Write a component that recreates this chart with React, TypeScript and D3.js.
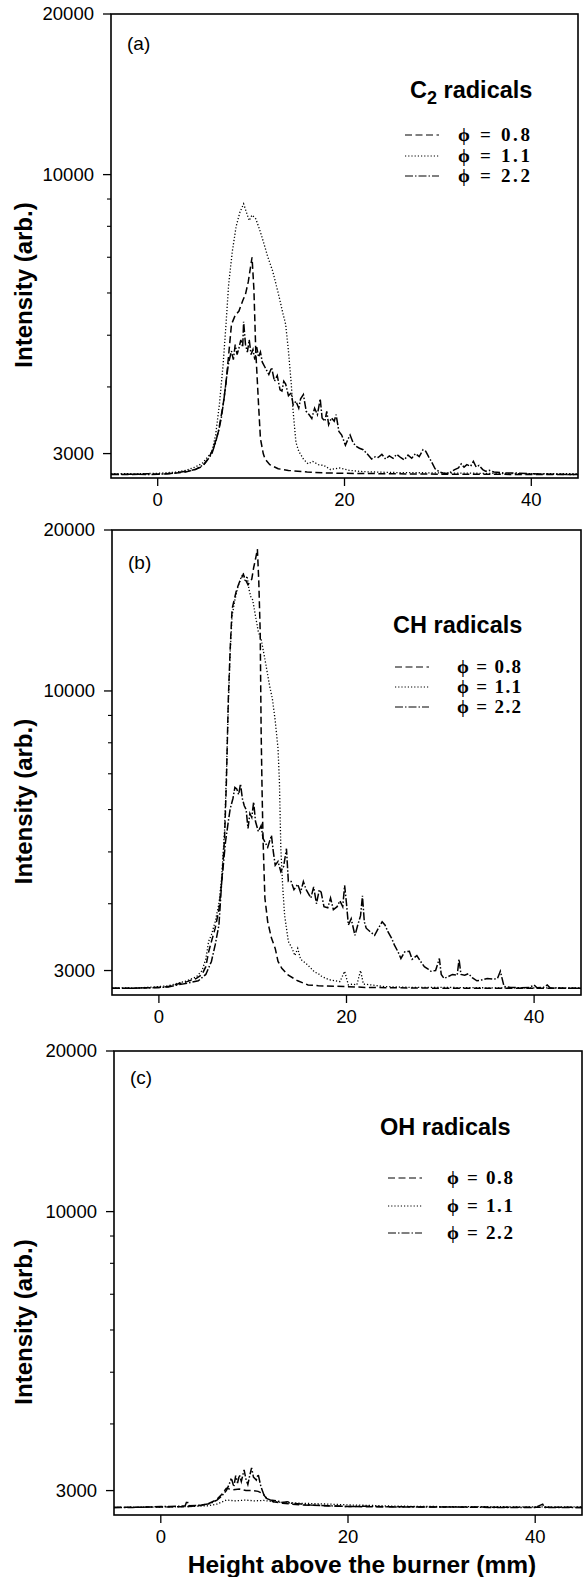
import React from "react";
import * as d3 from "d3";

// ---------- data (Height mm, Intensity arb.) ----------
const yTicksMajor = [3000, 10000, 20000];
const yTicksMinor = [4000, 5000, 6000, 7000, 8000, 9000];
const xTicks = [0, 20, 40];
const legendLabels = ["\u03d5 = 0.8", "\u03d5 = 1.1", "\u03d5 = 2.2"];
const panelLabels = ["(a)", "(b)", "(c)"];
const panelSpecies = ["C", "CH", "OH"];

const a08: [number, number][] = [[-5,2745],[-3,2740],[-1,2750],[0,2745],[1,2750],[2,2760],[3,2770],[4,2800],[4.8,2840],[5.5,2950],[6,3080],[6.5,3300],[7,3700],[7.3,4050],[7.6,4600],[7.9,5240],[8.3,5450],[8.7,5550],[9.1,5800],[9.4,5970],[9.7,6300],[10.1,7000],[10.3,6100],[10.5,4670],[10.8,3700],[11,3200],[11.3,3000],[11.5,2930],[12,2860],[12.9,2810],[14,2790],[16,2770],[18,2760],[20,2755],[25,2750],[30,2745],[35,2745],[40,2740],[45,2740]];
const a11: [number, number][] = [[-5,2750],[-2,2750],[0,2755],[2,2770],[3,2790],[4,2830],[4.8,2880],[5.3,2950],[5.8,3020],[6.2,3250],[6.6,3700],[7,4400],[7.3,5200],[7.6,6240],[8,7200],[8.4,8000],[8.8,8500],[9.2,8815],[9.5,8500],[9.8,8200],[10.1,8400],[10.5,8265],[10.9,7900],[11.3,7500],[11.8,7000],[12.3,6600],[12.6,6300],[13,5900],[13.4,5500],[13.7,5240],[14,4670],[14.3,4050],[14.5,3600],[14.8,3150],[15.1,3030],[15.6,2930],[16.1,2870],[16.6,2900],[17.2,2860],[17.8,2850],[18.5,2800],[19.5,2820],[20.5,2790],[22,2775],[25,2765],[30,2760],[35,2755],[40,2750],[45,2750]];
const a22: [number, number][] = [[-5,2740],[-3,2745],[-1,2740],[0,2745],[1,2750],[2,2760],[3,2780],[4,2800],[4.5,2830],[5,2870],[5.4,2930],[5.8,3000],[6.2,3150],[6.5,3300],[6.8,3490],[7.1,3800],[7.4,4200],[7.6,4450],[7.9,4670],[8.1,4500],[8.3,4800],[8.5,4600],[8.7,4730],[8.9,4900],[9.1,4750],[9.2,5300],[9.4,4800],[9.6,4650],[9.8,4900],[10,4600],[10.2,4700],[10.4,4500],[10.6,4750],[10.8,4550],[11,4650],[11.2,4450],[11.5,4350],[11.9,4220],[12.2,4350],[12.5,4100],[12.8,4200],[13.1,3950],[13.3,3930],[13.5,4100],[13.7,4050],[14,3850],[14.3,3900],[14.5,3700],[14.8,3760],[15.1,3650],[15.3,3800],[15.6,3870],[15.9,3600],[16.2,3550],[16.5,3490],[16.8,3650],[17.1,3550],[17.4,3800],[17.6,3500],[17.9,3450],[18.1,3600],[18.3,3400],[18.6,3500],[18.9,3450],[19.1,3550],[19.4,3300],[19.7,3250],[20.1,3110],[20.4,3200],[20.6,3250],[20.9,3150],[21.2,3100],[21.6,3070],[22,3050],[22.4,3000],[22.9,2930],[23.3,2960],[23.6,2950],[24,2990],[24.4,2930],[24.8,2970],[25.2,2940],[25.6,2990],[26,2950],[26.4,2920],[26.8,2980],[27.2,2940],[27.6,3000],[28,2960],[28.4,3050],[28.7,3030],[29,2960],[29.3,2900],[29.7,2810],[30.2,2770],[30.8,2750],[31.4,2770],[31.8,2800],[32.2,2820],[32.5,2870],[32.8,2830],[33.1,2860],[33.5,2840],[33.8,2900],[34.1,2830],[34.4,2850],[34.8,2800],[35.1,2780],[35.5,2790],[36,2770],[37,2760],[38,2760],[40,2750],[42,2745],[45,2740]];

const b08: [number, number][] = [[-5,2780],[-3,2780],[-1,2785],[0,2790],[1,2800],[2,2830],[3,2860],[4,2900],[4.6,2950],[5,3050],[5.3,3250],[5.6,3400],[6,3600],[6.4,3900],[6.7,4400],[7,5300],[7.2,6800],[7.4,9660],[7.6,12000],[7.8,14220],[8.1,15000],[8.3,15500],[8.6,16000],[9,16530],[9.2,16200],[9.5,15800],[9.7,16000],[9.9,16180],[10.1,17000],[10.3,17650],[10.5,18420],[10.65,16000],[10.8,12880],[10.9,8390],[11,6500],[11.1,5300],[11.3,4100],[11.6,3700],[12,3450],[12.4,3300],[12.7,3120],[13.1,3030],[13.8,2940],[14.8,2870],[15.9,2820],[17,2810],[19.8,2800],[22,2790],[25,2785],[30,2780],[35,2780],[40,2780],[45,2780]];
const b11: [number, number][] = [[-5,2785],[-2,2785],[0,2800],[1,2810],[2,2840],[3,2870],[4,2920],[4.6,3000],[5,3150],[5.3,3400],[5.6,3500],[6,3700],[6.4,4000],[6.7,4500],[7,5500],[7.2,7000],[7.4,9400],[7.6,11800],[7.8,13800],[8.1,14800],[8.4,15600],[8.7,16200],[9,16600],[9.2,16000],[9.4,16400],[9.6,15500],[9.8,15000],[10,14800],[10.3,13800],[10.6,12900],[10.9,12500],[11.3,11470],[11.8,10230],[12.1,9660],[12.4,8800],[12.7,7800],[12.85,6760],[13,5070],[13.2,4300],[13.4,3810],[13.8,3400],[14.2,3300],[14.5,3200],[14.8,3300],[15.1,3150],[15.4,3120],[15.8,3080],[16.2,3030],[16.6,2980],[17,2960],[17.3,2930],[17.8,2900],[18.3,2880],[18.8,2870],[19.3,2860],[19.8,2990],[20.2,2820],[20.7,2830],[21.1,2820],[21.5,3000],[21.8,2830],[22.6,2820],[24,2800],[27,2790],[30,2790],[35,2785],[40,2785],[45,2785]];
const b22: [number, number][] = [[-5,2780],[-3,2780],[-1,2785],[0,2790],[1,2795],[2,2820],[3,2840],[4.2,2870],[5,2950],[5.6,3120],[6,3350],[6.4,3650],[6.7,4400],[7.1,5220],[7.4,5700],[7.6,6020],[7.9,6300],[8.1,6600],[8.3,6560],[8.5,6400],[8.7,6700],[8.9,6290],[9.1,6100],[9.3,6000],[9.5,5530],[9.7,5900],[9.9,5800],[10.1,6200],[10.3,5700],[10.6,5460],[10.9,5600],[11.1,5300],[11.3,5220],[11.6,5100],[12,5370],[12.2,5000],[12.4,4720],[12.7,4800],[13,4590],[13.3,4700],[13.6,5070],[13.8,4400],[14.1,4400],[14.4,4250],[14.8,4350],[15.1,4200],[15.4,4400],[15.7,4250],[16.2,4100],[16.5,4300],[16.8,4000],[17.1,4250],[17.3,4200],[17.6,3950],[18,3930],[18.3,4100],[18.6,3900],[19,3950],[19.3,4050],[19.6,3950],[19.8,4330],[20,4000],[20.2,3650],[20.5,3750],[20.9,3490],[21.2,3650],[21.5,3800],[21.7,4140],[21.9,3700],[22.1,3600],[22.5,3550],[23,3490],[23.4,3600],[23.8,3700],[24.1,3650],[24.4,3550],[24.8,3450],[25.1,3350],[25.5,3250],[25.8,3160],[26.2,3250],[26.7,3260],[27,3150],[27.5,3200],[27.9,3120],[28.3,3050],[28.7,3020],[29,2990],[29.5,3000],[29.9,3160],[30.1,2950],[30.4,2900],[30.8,2920],[31.3,2950],[31.8,2940],[32,3150],[32.2,2950],[32.6,2940],[33,2960],[33.4,2910],[33.9,2870],[34.4,2880],[35,2900],[35.7,2890],[36.1,2900],[36.4,2990],[36.8,2800],[37.5,2790],[38.5,2785],[39.5,2790],[40,2820],[40.3,2785],[41,2790],[41.4,2820],[41.7,2785],[43,2780],[45,2780]];

const c08: [number, number][] = [[-5,2790],[0,2795],[3,2800],[4,2810],[5,2830],[5.9,2880],[6.5,2950],[7,3030],[7.7,3010],[8.4,3020],[9.1,3000],[9.8,3000],[10.4,2990],[10.9,2960],[11.3,2900],[12,2860],[13,2840],[15,2820],[20,2800],[30,2795],[45,2790]];
const c11: [number, number][] = [[-5,2790],[0,2795],[3,2800],[5,2810],[6,2830],[7,2880],[8,2870],[9,2880],[10,2870],[11,2875],[12,2860],[13,2850],[15,2840],[18,2830],[20,2820],[22,2815],[25,2805],[30,2800],[45,2795]];
const c22: [number, number][] = [[-5,2790],[-3,2790],[-1,2795],[0,2800],[1,2800],[2,2805],[2.6,2810],[2.8,2870],[3,2810],[4,2815],[5,2830],[5.5,2850],[6,2880],[6.5,2930],[7,3000],[7.3,3080],[7.5,3150],[7.6,3140],[7.8,3050],[8,3200],[8.2,3100],[8.4,3210],[8.6,3120],[8.9,3280],[9.1,3150],[9.3,3080],[9.5,3200],[9.7,3310],[9.9,3180],[10.2,3140],[10.4,3220],[10.7,3050],[11,2950],[11.3,2900],[11.7,2880],[12.4,2870],[13,2850],[13.5,2860],[14,2840],[15,2830],[16,2820],[17,2815],[18,2810],[20,2800],[22,2805],[25,2795],[30,2795],[35,2790],[40,2790],[40.8,2830],[41,2790],[45,2790]];

const seriesByPanel = [[a08, a11, a22], [b08, b11, b22], [c08, c11, c22]];

// ---------- layout ----------
const W = 584, H = 1577;
const layout = [
  { top: 14, bottom: 478, left: 111, right: 578, titleX: 410, titleY: 98, legX: 405, legTextX: 458, legW: 72, legY: [135, 156, 176], labY: 50 },
  { top: 530, bottom: 995, left: 112, right: 581, titleX: 393, titleY: 633, legX: 395, legTextX: 457, legW: 64, legY: [667, 687, 707], labY: 569 },
  { top: 1051, bottom: 1515, left: 114, right: 582, titleX: 380, titleY: 1135, legX: 388, legTextX: 447, legW: 66, legY: [1178, 1206, 1233], labY: 1084 },
];
const dashes = ["7,3.5", "1.2,2", "8,2,1.5,2"];
const SANS = "'Liberation Sans', Arial, sans-serif";
const SERIF = "'Liberation Serif', 'Times New Roman', serif";

function Panel({ i }: { i: number }) {
  const L = layout[i];
  const x = d3.scaleLinear().domain([-5, 45]).range([L.left, L.right]);
  const y = d3.scaleLog().domain([2700, 20000]).range([L.bottom, L.top]);
  const line = d3.line<[number, number]>().x(d => x(d[0])).y(d => y(d[1]));
  const mid = (L.top + L.bottom) / 2 + 39;
  return (
    <g>
      {seriesByPanel[i].map((s, k) => (
        <path key={k} d={line(s) || ""} fill="none" stroke="#000" strokeWidth={k === 1 ? 1.3 : 1.5} strokeDasharray={dashes[k]} />
      ))}
      <rect x={L.left} y={L.top} width={L.right - L.left} height={L.bottom - L.top} fill="none" stroke="#000" strokeWidth={1.6} />
      {yTicksMajor.map(v => (
        <g key={v}>
          <line x1={L.left - 8} x2={L.left} y1={y(v)} y2={y(v)} stroke="#000" strokeWidth={1.3} />
          <text x={L.left - 17} y={y(v)} dy="0.35em" textAnchor="end" fontFamily={SANS} fontSize={18.5} fill="#000">{v}</text>
        </g>
      ))}
      {yTicksMinor.map(v => (
        <line key={v} x1={L.left - 4} x2={L.left} y1={y(v)} y2={y(v)} stroke="#000" strokeWidth={1.1} />
      ))}
      {xTicks.map(v => (
        <g key={v}>
          <line x1={x(v)} x2={x(v)} y1={L.bottom} y2={L.bottom + 8} stroke="#000" strokeWidth={1.3} />
          <text x={x(v)} y={L.bottom + 28} textAnchor="middle" fontFamily={SANS} fontSize={18.5} fill="#000">{v}</text>
        </g>
      ))}
      <text x={L.left + 16} y={L.labY} fontFamily={SANS} fontSize={19} fill="#000">{panelLabels[i]}</text>
      <text transform={`translate(32,${mid}) rotate(-90)`} textAnchor="middle" fontFamily={SANS} fontWeight="bold" fontSize={24} fill="#000">Intensity (arb.)</text>
      <text x={L.titleX} y={L.titleY} fontFamily={SANS} fontWeight="bold" fontSize={23.5} fill="#000">
        {panelSpecies[i]}
        {i === 0 ? <tspan fontSize={18} dy={6}>2</tspan> : null}
        {i === 0 ? <tspan dy={-6}> radicals</tspan> : <tspan> radicals</tspan>}
      </text>
      {legendLabels.map((lab, k) => (
        <g key={k}>
          <line x1={L.legX} x2={L.legX + 34} y1={L.legY[k]} y2={L.legY[k]} stroke="#000" strokeWidth={1} strokeDasharray={dashes[k]} />
          <text x={L.legTextX} y={L.legY[k]} dy="0.33em" fontFamily={SERIF} fontWeight="bold" fontSize={19} textLength={L.legW} lengthAdjust="spacing" fill="#000">{lab}</text>
        </g>
      ))}
    </g>
  );
}

export default function App() {
  return (
    <svg width={W} height={H} style={{ position: "absolute", left: 0, top: 0, background: "#fff" }}>
      <rect width={W} height={H} fill="#fff" />
      {[0, 1, 2].map(i => <Panel key={i} i={i} />)}
      <text x={362} y={1573} textAnchor="middle" fontFamily={SANS} fontWeight="bold" fontSize={24.5} fill="#000">Height above the burner (mm)</text>
    </svg>
  );
}
